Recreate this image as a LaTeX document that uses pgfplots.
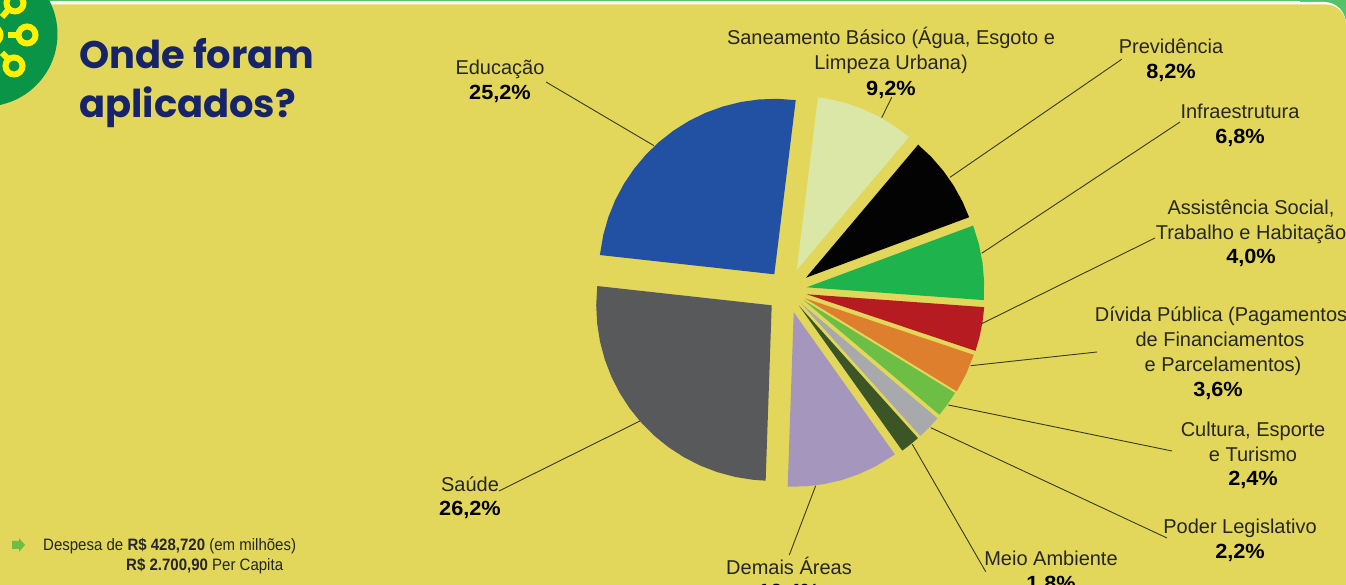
\documentclass[border=0pt]{standalone}
\usepackage{pgfplots}
\pgfplotsset{compat=1.18}
\usepackage{fontspec}
\setmainfont{Liberation Sans}
\newfontfamily\titlefont{Poppins}
\newfontfamily\condfont[FakeStretch=0.91]{Liberation Sans}
\newfontfamily\pctfont[FakeStretch=1.06]{Liberation Sans}
\definecolor{bg}{HTML}{E2D75B}
\definecolor{c1}{HTML}{2250A2}
\definecolor{c2}{HTML}{DAE7A6}
\definecolor{c3}{HTML}{030303}
\definecolor{c4}{HTML}{1FB34E}
\definecolor{c5}{HTML}{B51B21}
\definecolor{c6}{HTML}{DD7F2C}
\definecolor{c7}{HTML}{6CBE45}
\definecolor{c8}{HTML}{A7A9AC}
\definecolor{c9}{HTML}{3B5526}
\definecolor{c10}{HTML}{A596BD}
\definecolor{c11}{HTML}{58595B}
\definecolor{navy}{HTML}{17246A}
\definecolor{lead}{HTML}{3A3A20}
\definecolor{logo}{HTML}{0A9447}
\definecolor{topg}{HTML}{55C26A}
\definecolor{ringy}{HTML}{FFF200}
\newcommand{\lab}[3]{\node[anchor=base,inner sep=0pt,text=black!85,font=\fontsize{20}{24}\selectfont] at (axis cs:#1,{585-#2-1}) {#3};}
\newcommand{\pct}[3]{\node[anchor=base,inner sep=0pt,text=black,font=\fontsize{20.5}{24}\selectfont\pctfont\bfseries] at (axis cs:#1,{585-#2-1}) {#3};}
\pgfplotsset{leader/.style={draw=lead,line width=0.9pt,no markers,forget plot}}
\begin{document}
\begin{tikzpicture}
\useasboundingbox (0,0) rectangle (1346pt,585pt);
\clip (0,0) rectangle (1346pt,585pt);
% page background
\fill[white] (0,0) rectangle (1346pt,585pt);
\fill[topg] (0,584pt) rectangle (1346pt,585pt);
\fill[topg] (1300pt,555pt) rectangle (1346pt,585pt);
\fill[white,rounded corners=22pt] (-40pt,-40pt) rectangle (1346pt,583pt);
\fill[bg,rounded corners=20pt] (-40pt,-40pt) rectangle (1346pt,580.5pt);
% logo
\fill[logo] (-15pt,551pt) circle (72.5pt);
\begin{scope}[draw=ringy,line width=6pt]
\draw (27pt,550pt) circle (8.5pt);
\draw (8pt,550pt) -- (18pt,550pt);
\draw (14pt,519pt) circle (8.5pt);
\draw (2pt,532pt) -- (8pt,526pt);
\draw (15pt,582pt) circle (8.5pt);
\draw (2pt,568pt) -- (8pt,575pt);
\draw (-8pt,550pt) circle (8.5pt);
\end{scope}
\begin{axis}[
  x=1pt,y=1pt,xmin=0,xmax=1346,ymin=0,ymax=585,
  hide axis,clip=false,anchor=origin,at={(0,0)}]
% shares: 25.2 9.2 8.2 6.8 4.0 3.6 2.4 2.2 1.8 10.4 26.2; each wedge is (angle, radius) from its own apex
\addplot[fill=c1,draw=none,data cs=polar,shift={(774.3pt,310.7pt)},forget plot] coordinates {(0,0) (82.98,175.5) (89,175.5) (95,175.5) (101,175.5) (107,175.5) (113,175.5) (119,175.5) (125,175.5) (131,175.5) (137,175.5) (143,175.5) (149,175.5) (155,175.5) (161,175.5) (167,175.5) (173.7,175.5)} -- cycle;
\addplot[fill=c2,draw=none,data cs=polar,shift={(796.7pt,315pt)},forget plot] coordinates {(0,0) (49.86,174) (56,174) (62,174) (68,174) (74,174) (80,174) (82.98,174)} -- cycle;
\addplot[fill=c3,draw=none,data cs=polar,shift={(806pt,307.3pt)},forget plot] coordinates {(0,0) (20.34,174) (26,174) (32,174) (38,174) (44,174) (49.86,174)} -- cycle;
\addplot[fill=c4,draw=none,data cs=polar,shift={(806.7pt,297.7pt)},forget plot] coordinates {(0,0) (-4.14,177.5) (2,177.5) (8,177.5) (14,177.5) (20.34,177.5)} -- cycle;
\addplot[fill=c5,draw=none,data cs=polar,shift={(806.7pt,290.7pt)},forget plot] coordinates {(0,0) (-18.54,178) (-14,178) (-9,178) (-4.14,178)} -- cycle;
\addplot[fill=c6,draw=none,data cs=polar,shift={(805pt,286.7pt)},forget plot] coordinates {(0,0) (-31.5,178) (-25,178) (-18.54,178)} -- cycle;
\addplot[fill=c7,draw=none,data cs=polar,shift={(803.3pt,285pt)},forget plot] coordinates {(0,0) (-40.14,178) (-36,178) (-31.5,178)} -- cycle;
\addplot[fill=c8,draw=none,data cs=polar,shift={(801pt,281.7pt)},forget plot] coordinates {(0,0) (-48.06,178.5) (-44,178.5) (-40.14,178.5)} -- cycle;
\addplot[fill=c9,draw=none,data cs=polar,shift={(799pt,279.3pt)},forget plot] coordinates {(0,0) (-54.54,178) (-51,178) (-48.06,178)} -- cycle;
\addplot[fill=c10,draw=none,data cs=polar,shift={(793.7pt,272.7pt)},forget plot] coordinates {(0,0) (-91.98,174.5) (-86,174.5) (-80,174.5) (-74,174.5) (-68,174.5) (-62,174.5) (-54.54,174.5)} -- cycle;
\addplot[fill=c11,draw=none,data cs=polar,shift={(771.7pt,279.7pt)},forget plot] coordinates {(0,0) (-186.3,175.5) (-180,175.5) (-174,175.5) (-168,175.5) (-162,175.5) (-156,175.5) (-150,175.5) (-144,175.5) (-138,175.5) (-132,175.5) (-126,175.5) (-120,175.5) (-114,175.5) (-108,175.5) (-102,175.5) (-96,175.5) (-91.98,175.5)} -- cycle;
% leader lines
\addplot[leader] coordinates {(546,503) (654,439.3)};
\addplot[leader] coordinates {(891.7,487.7) (881.7,467.3)};
\addplot[leader] coordinates {(1121.7,525.7) (950,407.7)};
\addplot[leader] coordinates {(1180,463) (981.7,331.7)};
\addplot[leader] coordinates {(1155,347) (981.7,261.3)};
\addplot[leader] coordinates {(1097,233) (970.7,219.3)};
\addplot[leader] coordinates {(1172,134) (948.3,180)};
\addplot[leader] coordinates {(1167,47) (930.7,157.3)};
\addplot[leader] coordinates {(985.7,13.3) (912.3,140.7)};
\addplot[leader] coordinates {(789.3,30) (815.7,99.3)};
\addplot[leader] coordinates {(499,94) (640,164)};
% labels
\lab{500}{74}{Educação}\pct{500}{99}{25,2\%}
\lab{891}{44}{Saneamento Básico (Água, Esgoto e}
\lab{891}{69}{Limpeza Urbana)}\pct{891}{95}{9,2\%}
\lab{1171}{53}{Previdência}\pct{1171}{78}{8,2\%}
\lab{1240}{118}{Infraestrutura}\pct{1240}{143}{6,8\%}
\lab{1251}{214}{Assistência Social,}
\lab{1251}{239}{Trabalho e Habitação}\pct{1251}{263}{4,0\%}
\lab{1221}{321}{Dívida Pública (Pagamentos}
\lab{1220}{346}{de Financiamentos}
\lab{1223}{371}{e Parcelamentos)}\pct{1218}{396}{3,6\%}
\lab{1253}{436}{Cultura, Esporte}
\lab{1253}{461}{e Turismo}\pct{1253}{485}{2,4\%}
\lab{1240}{533}{Poder Legislativo}\pct{1240}{558}{2,2\%}
\lab{1051}{565}{Meio Ambiente}\pct{1051}{590}{1,8\%}
\lab{789}{574}{Demais Áreas}\pct{789}{598}{10,4\%}
\lab{470}{491}{Saúde}\pct{470}{515}{26,2\%}
% title
\node[anchor=base west,inner sep=0pt,text=navy,font=\fontsize{38.4}{42}\selectfont\titlefont\bfseries] at (axis cs:79,{585-69}) {Onde foram};
\node[anchor=base west,inner sep=0pt,text=navy,font=\fontsize{38.4}{42}\selectfont\titlefont\bfseries] at (axis cs:79,{585-118}) {aplicados?};
% footer
\fill[c7] (axis cs:12,{585-541}) -- (axis cs:19,{585-541}) -- (axis cs:19,{585-538}) -- (axis cs:25,{585-545}) -- (axis cs:19,{585-552}) -- (axis cs:19,{585-549}) -- (axis cs:12,{585-549}) -- cycle;
\node[anchor=base west,inner sep=0pt,text=black!85,font=\fontsize{16.5}{20}\selectfont\condfont] at (axis cs:43,{585-551}) {Despesa de \textbf{R\$ 428,720} (em milhões)};
\node[anchor=base west,inner sep=0pt,text=black!85,font=\fontsize{16.5}{20}\selectfont\condfont] at (axis cs:126,{585-571}) {\textbf{R\$ 2.700,90} Per Capita};
\end{axis}
\end{tikzpicture}
\end{document}
